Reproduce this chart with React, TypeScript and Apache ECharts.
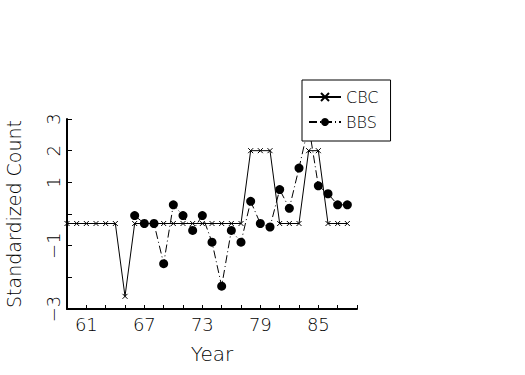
import React, { useEffect, useRef } from "react";
import * as echarts from "echarts";

const years = [59, 60, 61, 62, 63, 64, 65, 66, 67, 68, 69, 70, 71, 72, 73, 74, 75, 76, 77, 78, 79, 80, 81, 82, 83, 84, 85, 86, 87, 88];
const cbcValues = [-0.3, -0.3, -0.3, -0.3, -0.3, -0.3, -2.6, -0.3, -0.3, -0.3, -0.3, -0.3, -0.3, -0.3, -0.3, -0.3, -0.3, -0.3, -0.3, 2, 2, 2, -0.3, -0.3, -0.3, 2, 2, -0.3, -0.3, -0.3];
const bbsYears = [66, 67, 68, 69, 70, 71, 72, 73, 74, 75, 76, 77, 78, 79, 80, 81, 82, 83, 84, 85, 86, 87, 88];
const bbsValues = [-0.05, -0.3, -0.3, -1.57, 0.29, -0.05, -0.52, -0.05, -0.89, -2.28, -0.52, -0.89, 0.4, -0.3, -0.41, 0.77, 0.18, 1.45, 2.8, 0.89, 0.64, 0.29, 0.29];
const xTickLabels = [61, 67, 73, 79, 85];
const yTickLabels = [3, 2, 1, -1, -3];

const FONT = '"DejaVu Sans ExtraLight", "DejaVu Sans", sans-serif';

export default function App() {
  const ref = useRef<HTMLDivElement>(null);
  useEffect(() => {
    if (!ref.current) return;
    const chart = echarts.init(ref.current, null, { renderer: "svg" });
    chart.setOption({
      animation: false,
      backgroundColor: "#ffffff",
      grid: {
        left: 67,
        right: 168,
        top: 119,
        bottom: 66,
        containLabel: false,
        outerBoundsMode: "none",
      },
      legend: {
        orient: "vertical",
        left: 302,
        top: 80,
        backgroundColor: "#ffffff",
        borderColor: "#000",
        borderWidth: 1,
        padding: [9, 12, 11, 6],
        itemWidth: 32,
        itemHeight: 10,
        itemGap: 9,
        textStyle: { fontFamily: FONT, fontSize: 16, color: "#000", fontWeight: 200 },
        data: ["CBC", "BBS"],
      },
      xAxis: {
        type: "value",
        min: 59,
        max: 89,
        interval: 2,
        name: "Year",
        nameLocation: "middle",
        nameGap: 35,
        nameTextStyle: { fontFamily: FONT, fontSize: 20, color: "#000", fontWeight: 200 },
        splitLine: { show: false },
        axisLine: { onZero: false, lineStyle: { color: "#000", width: 2 } },
        axisTick: { inside: true, length: 4, lineStyle: { color: "#000", width: 1 } },
        axisLabel: {
          fontFamily: FONT,
          fontSize: 18,
          color: "#000",
          fontWeight: 200,
          margin: 6,
          formatter: (v: number) => (xTickLabels.includes(v) ? String(v) : ""),
        },
      },
      yAxis: {
        type: "value",
        min: -3,
        max: 3,
        interval: 1,
        name: "Standardized Count",
        nameLocation: "middle",
        nameGap: 44,
        nameRotate: 90,
        nameTextStyle: { fontFamily: FONT, fontSize: 19, color: "#000", fontWeight: 200 },
        splitLine: { show: false },
        axisLine: { show: true, onZero: false, lineStyle: { color: "#000", width: 2 } },
        axisTick: { show: true, inside: true, length: 5, lineStyle: { color: "#000", width: 1 } },
        axisLabel: {
          fontFamily: FONT,
          fontSize: 18,
          color: "#000",
          fontWeight: 200,
          margin: 5,
          rotate: 90,
          formatter: (v: number) =>
            yTickLabels.includes(v) ? (v < 0 ? "\u2212" + Math.abs(v) : String(v)) : "",
        },
      },
      series: [
        {
          name: "CBC",
          type: "line",
          data: years.map((y, i) => [y, cbcValues[i]]),
          symbol: "path://M0,0L10,10M10,0L0,10",
          symbolSize: 5,
          showAllSymbol: true,
          lineStyle: { color: "#000", width: 1 },
          itemStyle: { color: "#000", borderColor: "#000", borderWidth: 1 },
          z: 2,
        },
        {
          name: "BBS",
          type: "line",
          data: bbsYears.map((y, i) => [y, bbsValues[i]]),
          symbol: "circle",
          symbolSize: 9,
          showAllSymbol: true,
          lineStyle: { color: "#000", width: 1, type: [8, 3, 1, 3] },
          itemStyle: { color: "#000", borderWidth: 0 },
          z: 3,
        },
      ],
    });
    return () => chart.dispose();
  }, []);
  return (
    <div
      ref={ref}
      style={{ position: "absolute", left: 0, top: 0, width: 525, height: 375 }}
    />
  );
}
